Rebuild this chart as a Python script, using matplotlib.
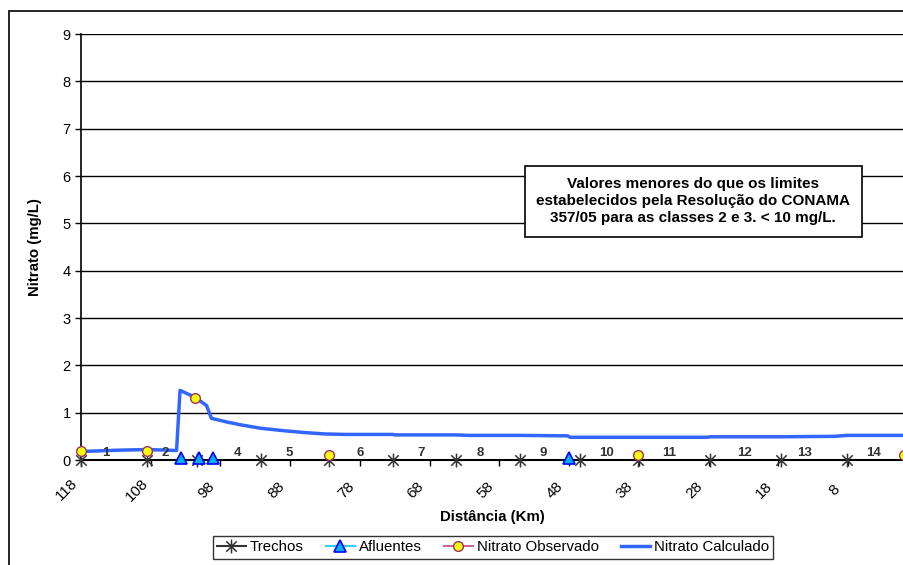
import matplotlib
matplotlib.use('Agg')
import matplotlib.pyplot as plt
from matplotlib.patches import Rectangle
from matplotlib.path import Path
import matplotlib.transforms as mtransforms

plt.rcParams['font.family'] = ['Liberation Sans', 'DejaVu Sans']

# trechos (segment boundaries), km
trechos_km = [118, 108.6, 101.4, 92.2, 82.5, 73.3, 64.2, 55.1, 46.4, 38.1, 27.8, 17.7, 8.2]
trechos_y = [0] * len(trechos_km)

# segment labels
seg_labels = ['1', '2', '4', '5', '6', '7', '8', '9', '10', '11', '12', '13', '14']
seg_km = [114.4, 106.0, 95.6, 88.1, 78.0, 69.3, 60.7, 51.7, 42.6, 33.7, 22.8, 14.2, 4.3]

# afluentes (tributaries)
aflu_km = [103.6, 101.1, 99.1, 48.0]
aflu_y = [0.05, 0.05, 0.05, 0.05]

# observed nitrate
obs_km = [118, 108.6, 101.7, 82.5, 38.1, 0]
obs_y = [0.2, 0.2, 1.3, 0.1, 0.1, 0.1]

# calculated nitrate
calc_km = [118, 112, 108.6, 106, 104.3, 103.8, 101.7, 100.0, 99.3, 97, 95, 92.2, 89, 86, 83, 80,
           73.3, 73.0, 64.2, 62.5, 55.1, 48.2, 47.9, 38, 28.2, 27.8, 17.7, 10, 8.2, 0]
calc_y = [0.18, 0.21, 0.22, 0.21, 0.2, 1.47, 1.33, 1.15, 0.88, 0.8, 0.74, 0.67, 0.62, 0.58, 0.55, 0.54,
          0.54, 0.53, 0.53, 0.52, 0.52, 0.51, 0.48, 0.48, 0.48, 0.49, 0.49, 0.5, 0.52, 0.52]

xticks = [118, 108, 98, 88, 78, 68, 58, 48, 38, 28, 18, 8]

note = ('Valores menores do que os limites\n'
        'estabelecidos pela Resolução do CONAMA\n'
        '357/05 para as classes 2 e 3. < 10 mg/L.')

# excel style asterisk: X with a vertical bar
star = Path([(0, -1), (0, 1), (-0.75, -0.75), (0.75, 0.75), (-0.75, 0.75), (0.75, -0.75)],
            [Path.MOVETO, Path.LINETO] * 3)

fig = plt.figure(figsize=(9.04, 5.65), dpi=100)
fig.patches.append(Rectangle((9 / 904, -0.1), 1.2, 1 - 11 / 565 + 0.1, transform=fig.transFigure,
                             fill=False, edgecolor='black', lw=1.2))
ax = fig.add_axes([81 / 904, 1 - 460 / 565, 1 - 81 / 904, (460 - 34) / 565])

ax.set_xlim(118, 0)
ax.set_ylim(0, 9)
ax.set_yticks(range(10))
ax.yaxis.grid(True, color='black', lw=1)
ax.set_axisbelow(True)
for s in ['top', 'right']:
    ax.spines[s].set_visible(False)
ax.spines['left'].set_linewidth(1.2)
ax.spines['bottom'].set_linewidth(1.5)
ax.set_xticks(xticks)
ax.set_xticklabels([str(t) for t in xticks], rotation=45, ha='center', va='center',
                   rotation_mode='anchor')
ax.tick_params(axis='both', labelsize=10.5, length=4, width=1, direction='out')
ax.tick_params(axis='x', labelsize=11, pad=17.5)
shift = mtransforms.ScaledTranslation(-14 / 100, 0, fig.dpi_scale_trans)
for lab in ax.get_xticklabels():
    lab.set_transform(lab.get_transform() + shift)

ax.plot(trechos_km, trechos_y, linestyle='none', marker=star, markersize=10,
        color='#333333', mew=1.1, label='Trechos', clip_on=False, zorder=4)
ax.plot(aflu_km, aflu_y, linestyle='none', marker='^', markersize=8, markerfacecolor='#00B0F0',
        markeredgecolor='#0000FF', mew=1.2, color='#33CCFF', label='Afluentes', clip_on=False, zorder=5)
ax.plot(obs_km, obs_y, linestyle='none', marker='o', markersize=7, markerfacecolor='#FFFF00',
        markeredgecolor='#993366', mew=1, color='#CC6699', label='Nitrato Observado', clip_on=False, zorder=6)
ax.plot(calc_km, calc_y, color='#3366FF', lw=2.5, label='Nitrato Calculado', zorder=3)

for lab, km in zip(seg_labels, seg_km):
    ax.text(km, 0.15, lab, ha='center', va='center', fontsize=9.5, fontweight='bold', color='#333333')

ax.add_patch(Rectangle((0.5395, 0.5235), 0.4095, 0.1665, transform=ax.transAxes,
                       facecolor='white', edgecolor='black', lw=1.2, zorder=7))
ax.text(0.744, 0.607, note, transform=ax.transAxes, ha='center', va='center', fontsize=11,
        fontweight='bold', linespacing=1.27, zorder=8)

ax.set_ylabel('Nitrato (mg/L)', fontsize=10.8, fontweight='bold')
ax.yaxis.set_label_coords(-0.047, 0.5)
ax.set_xlabel('Distância (Km)', fontsize=10.8, fontweight='bold')
ax.xaxis.set_label_coords(0.5, -0.134)
ax.xaxis.label.set_va('center')

h, l = ax.get_legend_handles_labels()
for hh in h[:3]:
    hh.set_linestyle('-')
leg = fig.legend(h, l, loc='center', bbox_to_anchor=(493 / 904, 1 - 547 / 565), ncol=4, fontsize=10.8,
                 frameon=True, fancybox=False, edgecolor='black', handlelength=1.9, columnspacing=1.5,
                 handletextpad=0.27, borderpad=0.3)
leg.get_frame().set_linewidth(1)
for hh in h[:3]:
    hh.set_linestyle('none')

fig.savefig('out.png', dpi=100)
